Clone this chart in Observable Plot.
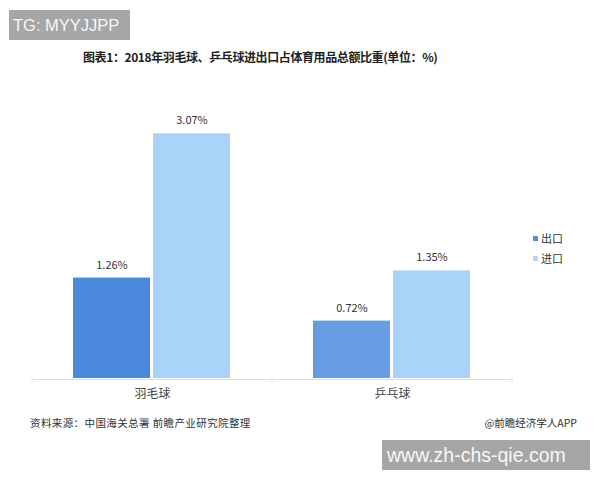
<!DOCTYPE html>
<html>
<head>
<meta charset="utf-8">
<script src="https://cdn.jsdelivr.net/npm/d3@7"></script>
<script src="https://cdn.jsdelivr.net/npm/@observablehq/plot@0.6"></script>
<style>
  html, body { margin: 0; padding: 0; background: #fff; }
  #page { position: relative; width: 600px; height: 480px; overflow: hidden; font-family: "Noto Sans CJK SC", "Noto Sans", sans-serif; }
  .wm-box { position: absolute; background: #a6a6a6; color: #f7f7f7; font-family: "Liberation Sans", Arial, sans-serif; box-sizing: border-box; white-space: nowrap; }
  #tg { left: 9px; top: 10px; width: 121px; height: 30px; font-size: 16.5px; line-height: 30px; padding-left: 4px; }
  #www { left: 382px; top: 440px; width: 208px; height: 30px; font-size: 19.5px; line-height: 30px; padding-left: 5px; }
  #title { position: absolute; left: 83px; top: 48px; font-size: 12px; font-weight: bold; color: #222; white-space: nowrap; letter-spacing: -0.4px; }
  #chart { position: absolute; left: 0; top: 70px; }
  #legend { position: absolute; left: 533px; top: 228px; font-size: 11px; color: #333; }
  #legend .item { display: flex; align-items: center; height: 20px; }
  #legend .sw { width: 5px; height: 5px; margin-right: 3px; }
  #source { position: absolute; left: 30px; top: 415px; font-size: 10.5px; color: #333; letter-spacing: 0.4px; white-space: nowrap; }
  #credit { position: absolute; right: 23px; top: 415px; font-size: 10.5px; color: #333; white-space: nowrap; }
</style>
</head>
<body>
<div id="page">
  <div id="tg" class="wm-box">TG: MYYJJPP</div>
  <div id="title">图表1：2018年羽毛球、乒乓球进出口占体育用品总额比重(单位：%)</div>
  <div id="chart"></div>
  <div id="legend"></div>
  <div id="source">资料来源：中国海关总署 前瞻产业研究院整理</div>
  <div id="credit">@前瞻经济学人APP</div>
  <div id="www" class="wm-box">www.zh-chs-qie.com</div>
</div>
<script>
const categories = ["羽毛球", "乒乓球"];
const series = ["出口", "进口"];
const exportValues = [1.26, 0.72];
const importValues = [3.07, 1.35];

const data = categories.flatMap((c, i) => [
  {category: c, series: series[0], value: exportValues[i]},
  {category: c, series: series[1], value: importValues[i]}
]);

const barColors = {
  "羽毛球|出口": "#4a89dc",
  "乒乓球|出口": "#679de3",
  "羽毛球|进口": "#a9d4f9",
  "乒乓球|进口": "#a9d4f9"
};
const legendColors = {"出口": "#5a8fc8", "进口": "#b9d4ec"};

const chart = Plot.plot({
  width: 600,
  height: 340,
  marginLeft: 32,
  marginRight: 88,
  marginTop: 29,
  marginBottom: 32,
  style: {fontFamily: "'Noto Sans CJK SC', sans-serif", background: "transparent", color: "#333"},
  fx: {domain: categories, padding: 0, label: null},
  x: {domain: series, paddingInner: 0.037, paddingOuter: 0.5, axis: null},
  y: {domain: [0, 3.5], axis: null},
  marks: [
    Plot.barY(data, {fx: "category", x: "series", y: "value", fill: d => barColors[d.category + "|" + d.series]}),
    Plot.ruleY([0], {stroke: "#dedede", dy: 1}),
    Plot.text(data, {fx: "category", x: "series", y: "value", text: d => d.value.toFixed(2) + "%", dy: -13, fontSize: 11, fill: "#333"}),
    Plot.axisFx({anchor: "bottom", tickSize: 0, tickPadding: 11, fontSize: 12, label: null, fill: "#444"})
  ]
});
document.getElementById("chart").appendChild(chart);

// small category-boundary ticks on the baseline, placed via the fx / y scales
const fxScale = chart.scale("fx");
const yScale = chart.scale("y");
const base = yScale.apply(0) + 1;
const bounds = categories.map(c => fxScale.apply(c)).concat([fxScale.apply(categories[categories.length - 1]) + fxScale.bandwidth]);
d3.select(chart).append("g")
  .attr("stroke", "#dedede")
  .selectAll("line")
  .data(bounds)
  .join("line")
  .attr("x1", d => d).attr("x2", d => d)
  .attr("y1", base).attr("y2", base + 4);

const legend = document.getElementById("legend");
series.forEach(s => {
  const item = document.createElement("div");
  item.className = "item";
  const sw = document.createElement("span");
  sw.className = "sw";
  sw.style.background = legendColors[s];
  const t = document.createElement("span");
  t.textContent = s;
  item.appendChild(sw);
  item.appendChild(t);
  legend.appendChild(item);
});
</script>
</body>
</html>
